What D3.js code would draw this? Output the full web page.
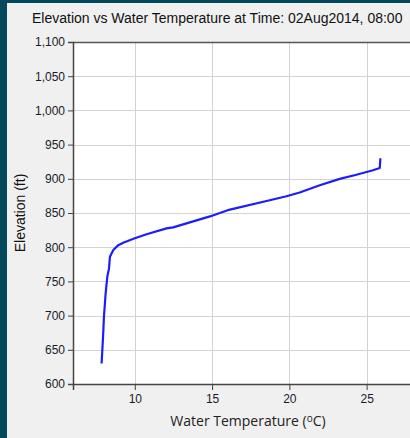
<!DOCTYPE html>
<html>
<head>
<meta charset="utf-8">
<script src="https://cdn.jsdelivr.net/npm/d3@7"></script>
<style>
  body { margin: 0; background: #f0f0f0; }
  svg { display: block; }
</style>
</head>
<body>
<div id="chart"></div>
<script>
// profile: water temperature (C) vs elevation (ft)
var temps = [7.85, 7.9, 7.96, 8.0, 8.11, 8.22, 8.33, 8.39, 8.61, 8.93, 9.25, 10.0, 10.76, 12.05, 12.48,
             14.86, 16.15, 18.73, 19.81, 20.67, 21.97, 23.26, 24.34, 25.41, 25.85, 25.89];
var elevs = [630, 650, 676, 698, 732, 757, 769, 786, 796, 803, 806.5, 813, 819, 827.6, 829,
             845, 855, 868.6, 874.5, 880, 890.6, 899.9, 906, 912.5, 915.8, 930];
var xTicks = [10, 15, 20, 25];
var yTicks = [600, 650, 700, 750, 800, 850, 900, 950, 1000, 1050, 1100];

var W = 410, H = 438;
var margin = {top: 42, right: -3, bottom: 54, left: 73},
    width = W - margin.left - margin.right,
    height = H - margin.top - margin.bottom;

var svg = d3.select("#chart").append("svg")
    .attr("width", W)
    .attr("height", H);

svg.append("rect").attr("width", W).attr("height", H).attr("fill", "#f0f0f0");
// dark frame on the left and top
svg.append("rect").attr("x", 0).attr("y", 0).attr("width", 7).attr("height", H).attr("fill", "#05485c");
svg.append("rect").attr("x", 0).attr("y", 0).attr("width", W).attr("height", 3).attr("fill", "#05485c");

svg.append("text")
    .attr("x", 32)
    .attr("y", 23)
    .style("font-family", "Liberation Sans, Arial, sans-serif")
    .style("font-size", "14px")
    .attr("fill", "#111")
    .text("Elevation vs Water Temperature at Time: 02Aug2014, 08:00");

var x = d3.scaleLinear().domain([6, 28]).range([0, width]);
var y = d3.scaleLinear().domain([600, 1100]).range([height, 0]);

var main = svg.append("g")
    .attr("transform", "translate(" + margin.left + "," + margin.top + ")");

main.append("rect")
    .attr("width", width)
    .attr("height", height)
    .attr("fill", "#fff");

// grid
main.selectAll(".vgrid").data(xTicks).enter().append("line")
    .attr("x1", function (d) { return Math.round(x(d)) + 0.5; })
    .attr("x2", function (d) { return Math.round(x(d)) + 0.5; })
    .attr("y1", 0).attr("y2", height)
    .attr("stroke", "#d3d3d3");
main.selectAll(".hgrid").data(yTicks.slice(1, -1)).enter().append("line")
    .attr("y1", function (d) { return Math.round(y(d)) + 0.5; })
    .attr("y2", function (d) { return Math.round(y(d)) + 0.5; })
    .attr("x1", 0).attr("x2", width)
    .attr("stroke", "#d3d3d3");

// top border
main.append("line")
    .attr("x1", 0).attr("x2", width)
    .attr("y1", 0.5).attr("y2", 0.5)
    .attr("stroke", "#555").attr("stroke-width", 1.5);

var xAxis = main.append("g")
    .attr("transform", "translate(0," + height + ")")
    .call(d3.axisBottom(x).tickValues(xTicks).tickSizeOuter(0).tickSize(6).tickPadding(4));

var yAxis = main.append("g")
    .call(d3.axisLeft(y).tickValues(yTicks).tickFormat(d3.format(",")).tickSizeOuter(0).tickSize(5).tickPadding(3));

[xAxis, yAxis].forEach(function (a) {
    a.select(".domain").attr("stroke", "#444").attr("stroke-width", 1.5);
    a.selectAll(".tick line").attr("stroke", "#444");
    a.selectAll("text")
        .style("font-family", "Liberation Sans, Arial, sans-serif")
        .style("font-size", "12px")
        .attr("fill", "#1a1a2a");
});

var line = d3.line()
    .x(function (d, i) { return x(temps[i]); })
    .y(function (d, i) { return y(elevs[i]); });

main.append("path")
    .datum(temps)
    .attr("d", line)
    .attr("fill", "none")
    .attr("stroke", "#1c1cff")
    .attr("stroke-width", 2.2)
    .attr("stroke-linejoin", "round");

// axis titles
svg.append("text")
    .attr("transform", "translate(25," + (margin.top + height / 2) + ") rotate(-90)")
    .attr("text-anchor", "middle")
    .style("font-family", "Liberation Sans, Arial, sans-serif")
    .style("font-size", "14px")
    .attr("fill", "#111")
    .text("Elevation (ft)");

var xl = svg.append("text")
    .attr("x", 248)
    .attr("y", 426)
    .attr("text-anchor", "middle")
    .style("font-family", "Open Sans, sans-serif")
    .style("font-size", "14px")
    .attr("fill", "#222");
xl.append("tspan").text("Water Temperature (");
xl.append("tspan").attr("dy", -4).style("font-size", "10px").text("o");
xl.append("tspan").attr("dy", 4).text("C)");
</script>
</body>
</html>
